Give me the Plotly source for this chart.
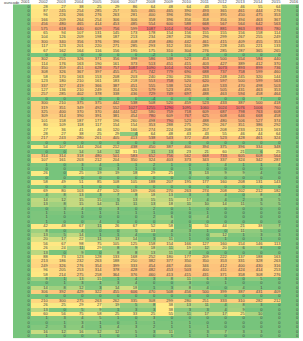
import numpy as np
import plotly.graph_objects as go

years = [str(y) for y in range(2001, 2017)]
header_label = "ouncode"

# values for 2002-2007
left_vals = [
    [28,27,38,25,29,86],[87,245,254,285,257,305],[96,226,266,276,263,281],[166,209,264,254,306,306],
    [456,480,465,414,453,485],[575,618,640,609,756,599],[65,94,107,131,145,173],[104,126,209,198,187,213],
    [300,340,356,376,396,408],[117,123,201,220,271,285],[67,162,164,116,156,195],[0,0,0,0,0,0],
    [302,255,326,371,356,398],[114,176,163,190,161,373],[350,359,451,628,757,1087],[308,326,367,397,455,475],
    [58,170,163,153,208,203],[123,180,210,161,183,218],[337,327,419,366,387,451],[127,136,210,249,314,326],
    [257,285,402,378,338,436],[0,0,0,0,0,0],[300,210,375,375,442,538],[319,351,349,492,552,1027],
    [325,400,370,370,444,542],[309,314,390,391,381,454],[101,158,187,177,196,260],[80,109,118,117,154,154],
    [27,36,41,46,120,166],[28,27,38,25,29,4],[217,243,280,261,405,413],[0,0,0,0,0,0],
    [54,107,144,204,212,438],[0,0,14,14,12,31],[314,314,318,480,501,583],[107,161,203,212,204,350],
    [1,0,3,4,1,1],[0,0,1,0,3,1],[26,0,25,19,19,18],[0,0,0,0,0,0],
    [58,49,51,85,108,105],[0,0,1,0,0,0],[69,80,103,47,120,169],[4,8,13,3,7,8],
    [14,12,15,15,5,13],[13,8,15,14,11,11],[0,3,4,0,3,0],[1,1,1,1,1,1],
    [1,0,0,0,0,0],[1,0,0,4,0,0],[42,48,67,11,26,67],[8,0,4,0,0,5],
    [13,5,14,1,1,4],[20,17,22,11,13,14],[56,67,98,75,105,125],[26,24,11,29,8,9],
    [13,0,9,0,8,8],[88,73,123,128,133,168],[213,186,232,263,188,250],[249,326,276,354,399,333],
    [96,205,253,314,378,428],[58,214,275,258,364,376],[8,1,13,15,1,4],[0,1,3,1,3,4],
    [14,8,12,3,14,18],[306,392,429,322,455,606],[0,0,0,0,0,0],[210,300,275,263,262,335],
    [26,25,29,27,19,5],[13,0,5,9,1,3],[60,56,75,58,25,33],[1,3,4,5,1,0],
    [0,1,3,1,0,1],[2,3,4,1,4,3],[16,12,16,12,12,5],[1,0,0,1,0,1],
]
# values for 2008-2015
right_vals = [
    [64,48,64,43,55,46,55,64],[465,465,390,493,365,461,444,276],[400,396,390,468,395,450,475,353],[358,396,356,358,356,394,463,367],
    [554,600,588,668,567,564,642,563],[1087,1014,954,909,881,863,893,780],[178,154,156,155,155,156,158,114],[234,287,236,296,299,267,255,249],
    [458,480,442,461,415,409,455,353],[293,312,310,289,228,245,221,133],[175,310,304,276,285,287,365,265],[-2,1,-1,0,0,0,0,0],
    [586,538,523,453,500,554,584,440],[513,451,415,403,427,389,412,370],[1090,1014,924,928,1073,893,899,736],[742,779,690,688,737,758,599,460],
    [240,230,230,233,248,245,320,144],[553,758,520,620,597,500,599,563],[555,538,524,449,533,470,498,503],[579,523,495,463,505,431,463,353],
    [729,749,697,488,463,594,458,464],[-4,0,0,0,0,0,7,0],[508,520,459,523,433,387,500,418],[1255,1290,1095,1060,1024,1076,1006,760],
    [580,759,718,609,687,798,763,608],[780,609,767,625,608,646,668,458],[498,790,523,488,480,506,527,374],[353,288,275,290,267,351,386,292],
    [274,224,208,257,208,233,213,163],[64,48,43,43,55,46,44,64],[538,543,372,458,523,428,461,324],[0,0,0,0,0,0,0,0],
    [450,387,400,394,375,396,334,348],[11,13,23,21,60,21,6,25],[652,756,562,668,733,605,608,564],[324,403,373,343,337,324,342,287],
    [2,1,0,1,4,1,1,4],[0,0,1,0,0,0,0,0],[29,25,3,13,9,9,4,0],[0,0,0,0,0,0,0,0],
    [188,207,195,177,160,208,131,143],[0,0,0,0,0,0,0,0],[206,270,263,274,208,202,212,182],[18,13,3,3,4,0,8,3],
    [15,15,17,4,4,2,3,5],[13,18,11,10,14,11,5,5],[2,0,1,0,0,0,0,0],[1,0,0,1,0,0,0,0],
    [2,6,0,4,0,0,0,0],[0,4,0,0,0,0,0,0],[52,58,1,51,44,21,38,7],[13,4,3,1,0,11,5,0],
    [0,1,1,0,12,1,3,3],[3,11,1,0,1,0,1,0],[158,154,166,127,160,154,146,113],[18,11,19,12,20,6,8,0],
    [13,11,4,0,0,0,0,0],[252,180,177,209,222,137,188,163],[382,377,350,350,353,331,328,263],[454,467,400,346,412,400,430,316],
    [482,453,503,400,411,424,414,253],[460,413,415,431,371,358,308,276],[3,8,11,6,3,0,5,0],[0,0,3,0,1,0,0,0],
    [1,3,8,4,0,4,1,0],[470,508,456,500,399,387,431,409],[0,0,0,0,0,0,0,0],[308,299,280,251,333,310,282,212],
    [8,38,13,11,4,8,3,0],[3,38,3,3,4,9,0,0],[25,55,11,17,17,25,10,0],[3,0,0,0,0,0,0,0],
    [1,1,1,0,0,0,0,0],[2,1,1,1,0,0,0,0],[3,11,1,3,7,3,3,0],[0,1,1,1,0,0,0,0],
]
col_2001 = [0] * len(left_vals)
col_2016 = [0] * len(left_vals)
row_labels = [f"A{i:02d}" for i in range(1, len(left_vals) + 1)]

z = [[a] + l + r + [b] for a, l, r, b in zip(col_2001, left_vals, right_vals, col_2016)]
zarr = np.array(z, dtype=float)
nrows = len(z)
ncols = len(years)

zmin = zarr.min()
zmax = zarr.max()
zmed = np.percentile(zarr, 50)
mid = (zmed - zmin) / (zmax - zmin)
cscale = [[0, "#63BE7B"], [mid, "#FFEB84"], [1, "#F8696B"]]

xs = list(range(ncols))
ys = list(range(1, nrows + 1))

fig = go.Figure()
fig.add_trace(go.Heatmap(
    z=z, x=xs, y=ys, colorscale=cscale, zmin=zmin, zmax=zmax,
    showscale=False, hoverinfo="skip", xgap=0, ygap=0,
))

# cell texts, right aligned
tx, ty, tt = [], [], []
for i, row in enumerate(z):
    for j, v in enumerate(row):
        tx.append(j + 0.44)
        ty.append(i + 1)
        tt.append(str(v))
fig.add_trace(go.Scatter(
    x=tx, y=ty, text=tt, mode="text", textposition="middle left",
    textfont=dict(size=4, color="#444444", family="Liberation Sans"),
    hoverinfo="skip", showlegend=False, cliponaxis=False,
))
# header
fig.add_trace(go.Scatter(
    x=[j + 0.44 for j in xs], y=[0] * ncols, text=years, mode="text",
    textposition="middle left",
    textfont=dict(size=4, color="#444444", family="Liberation Sans"),
    hoverinfo="skip", showlegend=False, cliponaxis=False,
))
# row labels (mostly clipped at the left edge)
fig.add_trace(go.Scatter(
    x=[-1.08] * nrows, y=ys, text=row_labels, mode="text",
    textposition="middle left",
    textfont=dict(size=4, color="#777777", family="Liberation Sans"),
    hoverinfo="skip", showlegend=False, cliponaxis=False,
))

fig.add_annotation(
    x=2 / 303, xref="paper", y=0, yref="y", text=header_label, showarrow=False,
    xanchor="left", yanchor="middle",
    font=dict(size=4, color="#444444", family="Liberation Sans"),
)

W, H = 303, 341
fig.update_layout(
    width=W, height=H, margin=dict(l=0, r=0, t=0, b=0),
    paper_bgcolor="white", plot_bgcolor="white",
    xaxis=dict(domain=[13 / W, 299.4 / W], range=[-0.5, ncols - 0.5],
               showgrid=False, zeroline=False, showticklabels=False, ticks=""),
    yaxis=dict(domain=[(H - 338.2) / H, 1.0], range=[nrows + 0.5, -0.5],
               showgrid=False, zeroline=False, showticklabels=False, ticks=""),
    showlegend=False,
)

fig.write_html("out.html")
